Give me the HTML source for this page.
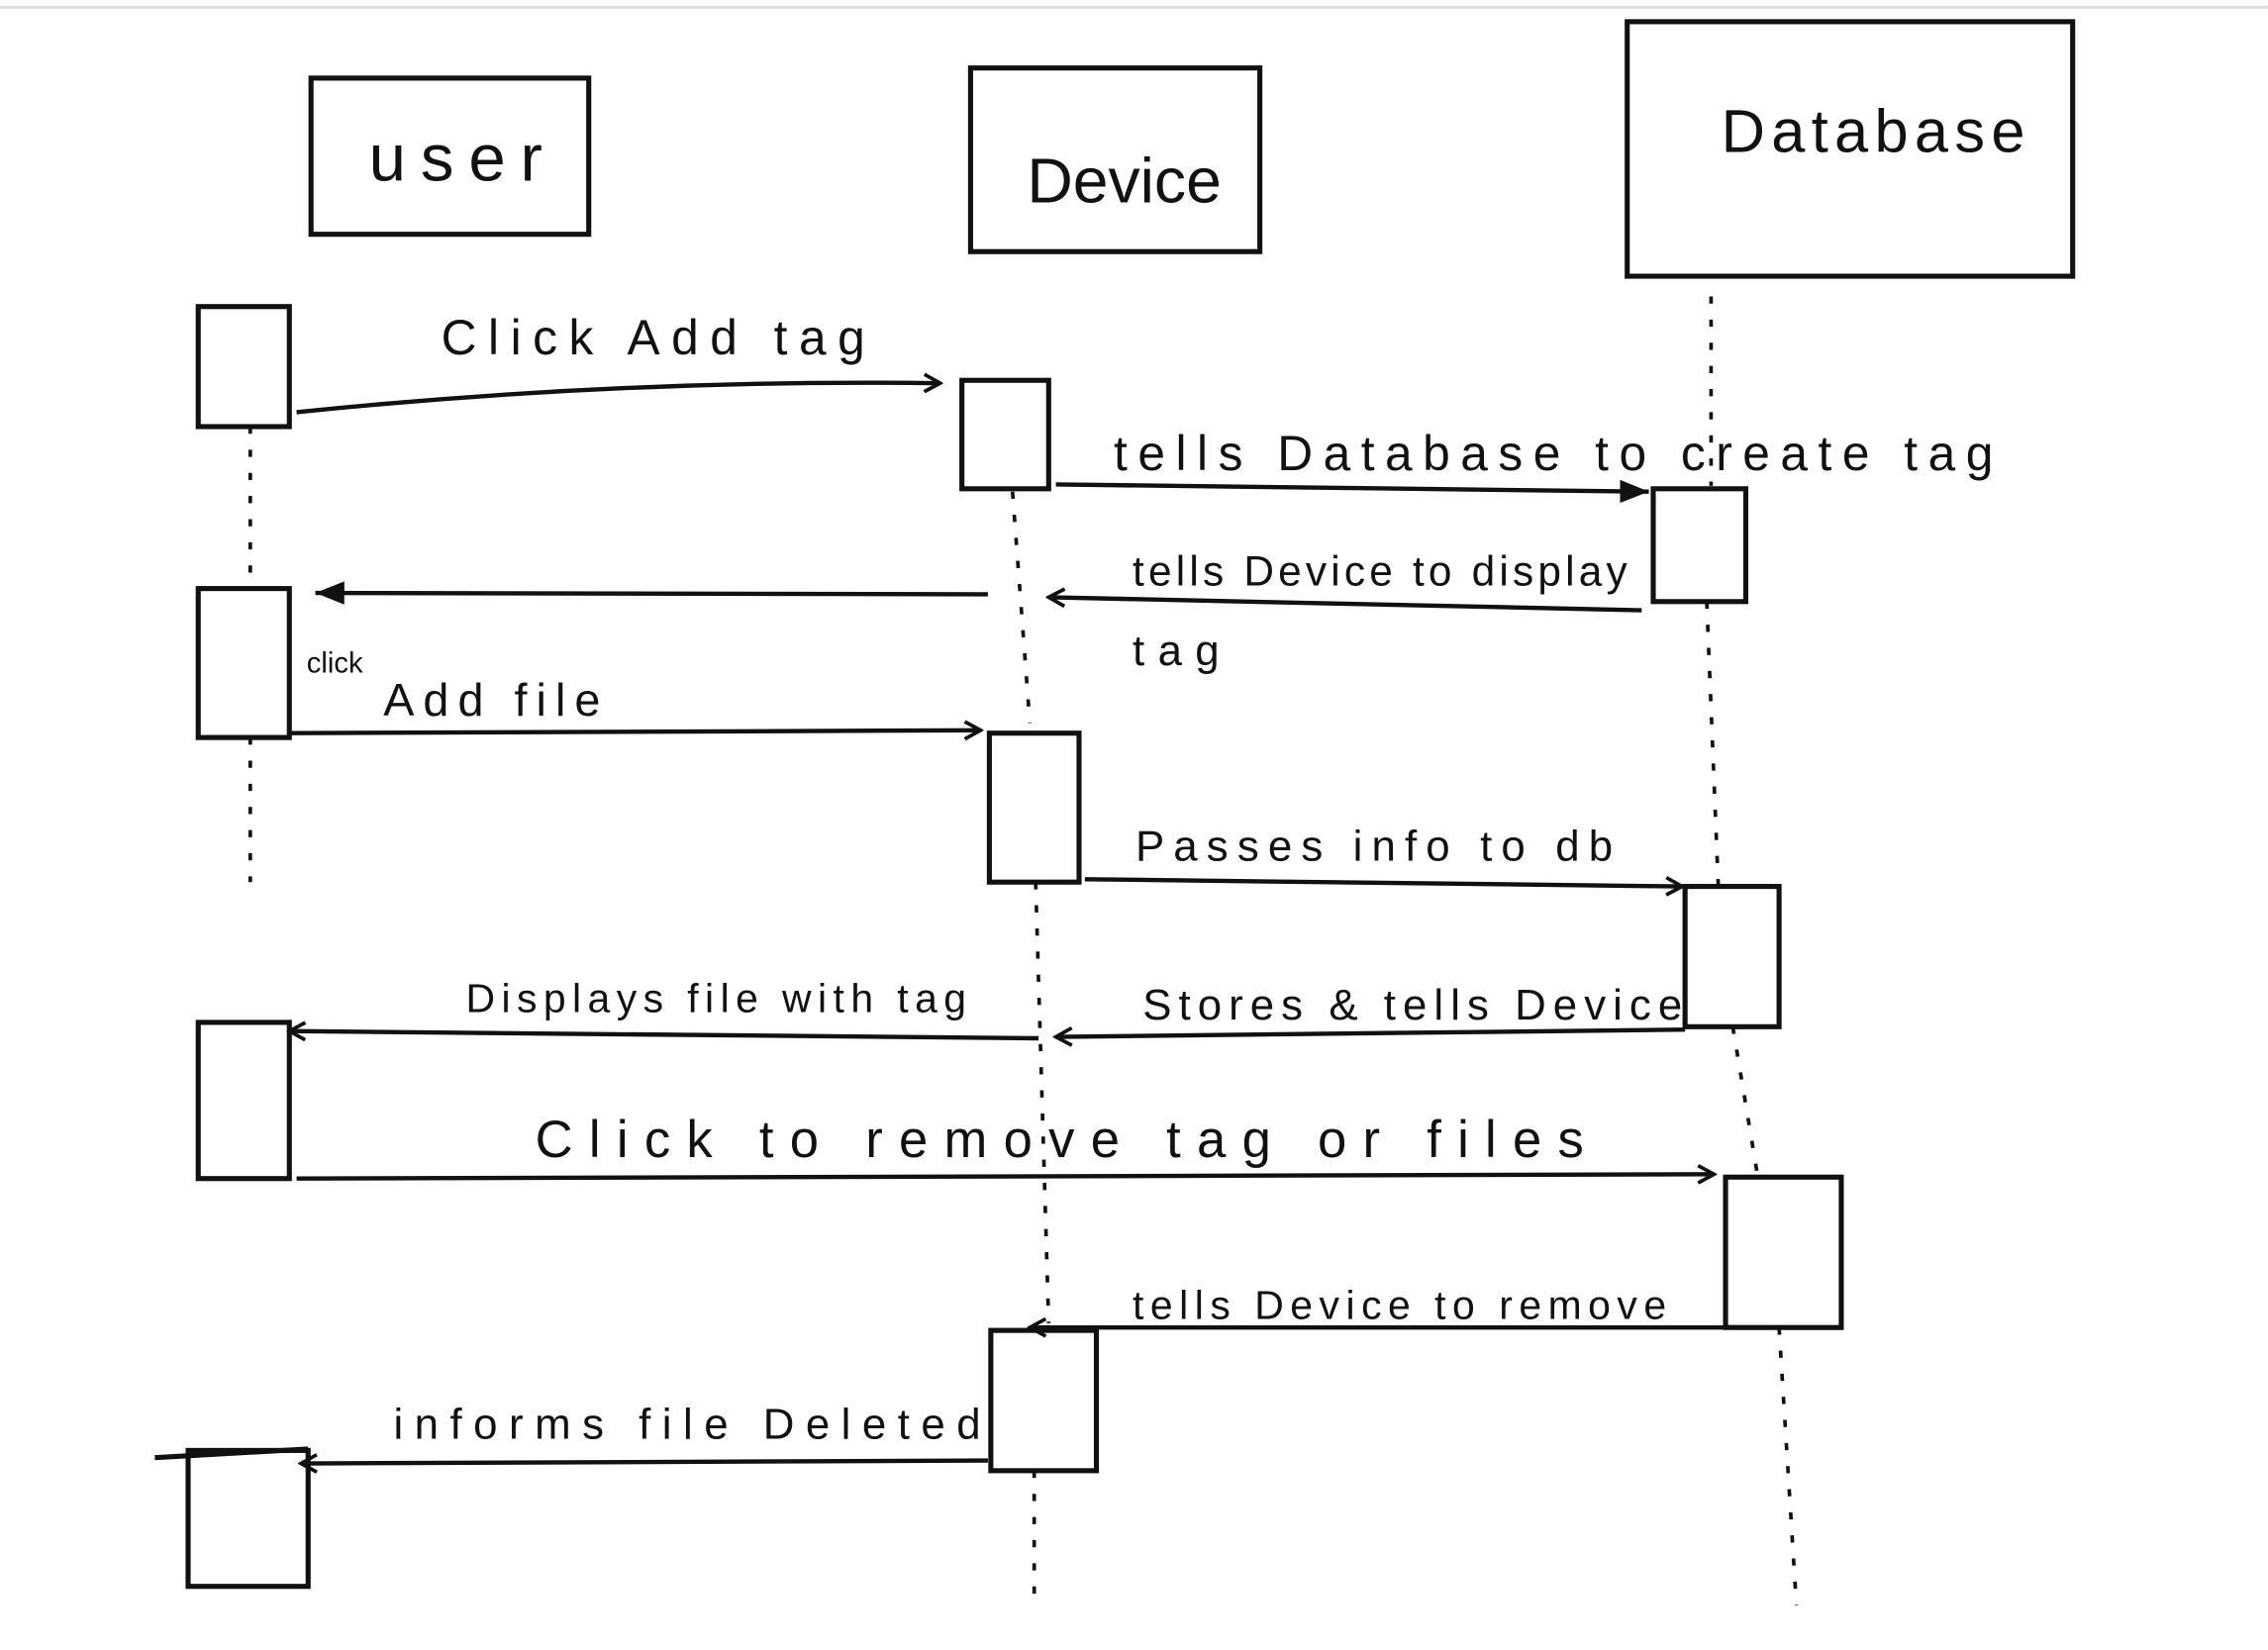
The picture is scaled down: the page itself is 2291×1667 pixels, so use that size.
<!DOCTYPE html>
<html><head><meta charset="utf-8"><style>
html,body{margin:0;padding:0;background:#fff;}
svg{display:block;}
text{font-family:"Liberation Sans",sans-serif;fill:#111;}
</style></head><body>
<svg width="2291" height="1667" viewBox="0 0 1568 1141" xmlns="http://www.w3.org/2000/svg">
<defs>
<marker id="o" markerWidth="14" markerHeight="14" refX="12" refY="7" orient="auto" markerUnits="userSpaceOnUse"><path d="M1,1 L12,7 L1,13" fill="none" stroke="#111" stroke-width="2.5"/></marker>
<marker id="f" markerWidth="22" markerHeight="18" refX="20" refY="9" orient="auto" markerUnits="userSpaceOnUse"><path d="M0,1 L20,9 L0,17 Z" fill="#111"/></marker>
</defs>
<line x1="0" y1="5" x2="1568" y2="5" stroke="#ddd" stroke-width="2"/>
<g fill="none" stroke="#111" stroke-width="3.5">
<rect x="215" y="54" width="192" height="108"/>
<rect x="671" y="47" width="200" height="127"/>
<rect x="1125" y="15" width="308" height="176"/>
<rect x="137" y="212" width="63" height="83"/>
<rect x="665" y="263" width="60" height="75"/>
<rect x="1143" y="338" width="64" height="78"/>
<rect x="137" y="407" width="63" height="103"/>
<rect x="684" y="507" width="62" height="103"/>
<rect x="1165" y="613" width="65" height="97"/>
<rect x="137" y="707" width="63" height="108"/>
<rect x="1193" y="814" width="80" height="104"/>
<rect x="685" y="920" width="73" height="97"/>
<rect x="130" y="1003" width="83" height="94"/>
<line x1="107" y1="1008" x2="213" y2="1002"/>
</g>
<g stroke="#111" stroke-width="2.5" stroke-dasharray="5 11" fill="none">
<line x1="173" y1="295" x2="173" y2="405"/>
<line x1="173" y1="510" x2="173" y2="610"/>
<path d="M700,340 L712,500"/>
<path d="M716,610 L725,915"/>
<line x1="715" y1="1017" x2="715" y2="1108"/>
<line x1="1183" y1="205" x2="1183" y2="336"/>
<line x1="1180" y1="416" x2="1188" y2="613"/>
<path d="M1198,710 L1215,812"/>
<line x1="1230" y1="918" x2="1242" y2="1110"/>
</g>
<g stroke="#111" stroke-width="3" fill="none">
<path d="M205,285 Q430,262 650,265" marker-end="url(#o)"/>
<line x1="730" y1="335" x2="1140" y2="340" marker-end="url(#f)"/>
<line x1="1135" y1="422" x2="725" y2="413" marker-end="url(#o)"/>
<line x1="683" y1="411" x2="218" y2="410" marker-end="url(#f)"/>
<line x1="200" y1="507" x2="678" y2="505" marker-end="url(#o)"/>
<line x1="750" y1="608" x2="1163" y2="613" marker-end="url(#o)"/>
<line x1="1165" y1="712" x2="730" y2="717" marker-end="url(#o)"/>
<line x1="718" y1="718" x2="200" y2="713" marker-end="url(#o)"/>
<line x1="205" y1="815" x2="1185" y2="812" marker-end="url(#o)"/>
<line x1="1195" y1="918" x2="712" y2="918" marker-end="url(#o)"/>
<line x1="683" y1="1010" x2="208" y2="1012" marker-end="url(#o)"/>
</g>
<text x="255" y="125" font-size="46" textLength="120" lengthAdjust="spacing">user</text>
<text x="710" y="140" font-size="44">Device</text>
<text x="1190" y="105" font-size="42" textLength="210" lengthAdjust="spacing">Database</text>
<text x="305" y="245" font-size="34" textLength="293" lengthAdjust="spacing">Click  Add tag</text>
<text x="770" y="325" font-size="34" textLength="608" lengthAdjust="spacing">tells Database to create  tag</text>
<text x="783" y="405" font-size="29" textLength="342" lengthAdjust="spacing">tells Device to display</text>
<text x="783" y="460" font-size="30" textLength="60" lengthAdjust="spacing">tag</text>
<text x="212" y="465" font-size="20">click</text>
<text x="265" y="495" font-size="32" textLength="150" lengthAdjust="spacing">Add file</text>
<text x="785" y="595" font-size="30" textLength="330" lengthAdjust="spacing">Passes  info  to  db</text>
<text x="790" y="705" font-size="30" textLength="373" lengthAdjust="spacing">Stores  &amp; tells Device</text>
<text x="322" y="700" font-size="28" textLength="346" lengthAdjust="spacing">Displays file  with tag</text>
<text x="370" y="800" font-size="36" textLength="725" lengthAdjust="spacing">Click    to  remove  tag or  files</text>
<text x="783" y="912" font-size="28" textLength="369" lengthAdjust="spacing">tells  Device  to remove</text>
<text x="272" y="995" font-size="30" textLength="406" lengthAdjust="spacing">informs  file  Deleted</text>
</svg>
</body></html>
